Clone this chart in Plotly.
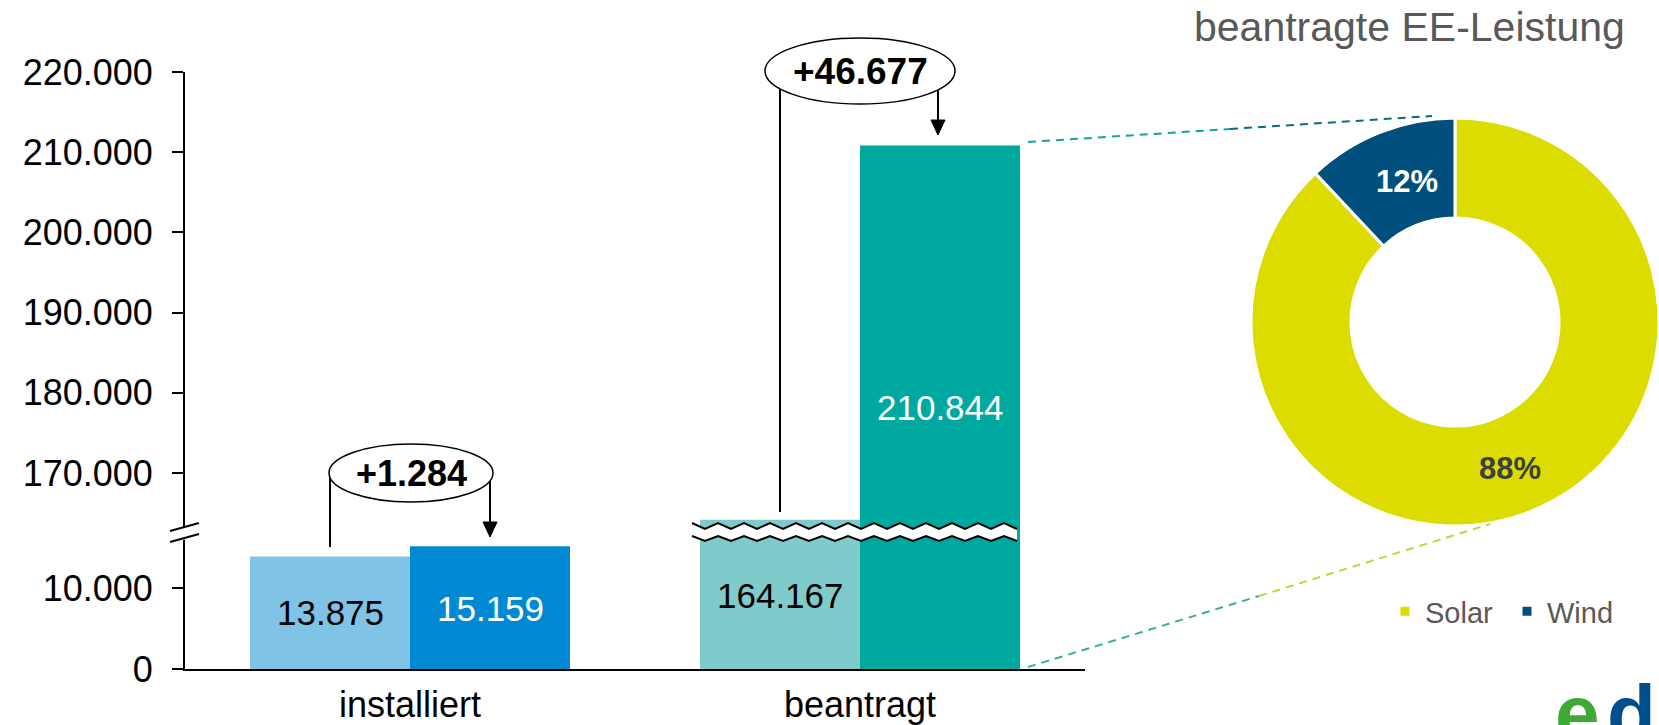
import plotly.graph_objects as go

W, H = 1659, 725

# ---------------- data ----------------
categories = ["installiert", "beantragt"]
values_before = [13875, 164167]
values_after = [15159, 210844]
share_labels = ["Solar", "Wind"]
share_values = [88, 12]
lower_ticks = [0, 10000]
upper_ticks = [170000, 180000, 190000, 200000, 210000, 220000]
title_text = "beantragte EE-Leistung"

# ---------------- helpers ----------------
def px(x):
    return x / W


def py(y):
    return 1 - y / H


def fmt(v):
    return f"{v:,}".replace(",", ".")


FONT = "Liberation Sans, Arial, sans-serif"
c_before = ["#7FC4E7", "#7FCBCB"]
c_after = ["#0089D2", "#00A9A0"]
pie_colors = ["#DCDC00", "#004F7C"]
BW = 160 / 450  # bar width in category units

fig = go.Figure()

for xa, ya in [("x", "y"), ("x2", "y2")]:
    fig.add_trace(go.Bar(x=categories, y=values_before, marker_color=c_before,
                         marker_line_width=0, width=BW, offset=-BW,
                         xaxis=xa, yaxis=ya, showlegend=False, hoverinfo="skip"))
    fig.add_trace(go.Bar(x=categories, y=values_after, marker_color=c_after,
                         marker_line_width=0, width=BW, offset=0,
                         xaxis=xa, yaxis=ya, showlegend=False, hoverinfo="skip"))

fig.add_trace(go.Pie(
    labels=share_labels, values=share_values, hole=0.51, sort=False,
    direction="clockwise", rotation=0,
    marker=dict(colors=pie_colors, line=dict(color="white", width=3)),
    textinfo="none",
    domain=dict(x=[px(1251), px(1659)], y=[py(526), py(118)]),
    showlegend=True, hoverinfo="skip"))

# ---------------- shapes ----------------
shapes = []


def line(x0, y0, x1, y1, color="black", width=2, dash=None):
    d = dict(type="line", xref="paper", yref="paper", x0=px(x0), y0=py(y0),
             x1=px(x1), y1=py(y1), line=dict(color=color, width=width))
    if dash:
        d["line"]["dash"] = dash
    shapes.append(d)


def path(points, fill=None, color="black", width=2, close=False):
    s = "M " + " L ".join(f"{px(x):.5f},{py(y):.5f}" for x, y in points)
    if close:
        s += " Z"
    shapes.append(dict(type="path", xref="paper", yref="paper", path=s,
                       fillcolor=fill if fill else "rgba(0,0,0,0)",
                       line=dict(color=color, width=width)))


def ellipse(cx, cy, rx, ry):
    shapes.append(dict(type="circle", xref="paper", yref="paper",
                       x0=px(cx - rx), x1=px(cx + rx), y0=py(cy + ry), y1=py(cy - ry),
                       fillcolor="white", line=dict(color="black", width=1.5)))


def arrowhead(x, ytip):
    path([(x - 7, ytip - 15), (x + 7, ytip - 15), (x, ytip)], fill="black",
         color="black", width=1, close=True)


# zigzag break band across beantragt bars
zx0, zx1, period = 692, 1026, 26
n = int((zx1 - zx0) / (period / 2))
upper_pts = [(zx0 + i * period / 2, 523 if i % 2 == 0 else 529) for i in range(n + 1)]
lower_pts = [(zx0 + i * period / 2, 536 if i % 2 == 0 else 541) for i in range(n + 1)]
path(upper_pts + lower_pts[::-1], fill="white", color="rgba(0,0,0,0)", width=0, close=True)
path(upper_pts, color="black", width=2)
path(lower_pts, color="black", width=2)

# y-axis break
path([(176, 530), (194, 525), (194, 537), (176, 542)], fill="white",
     color="rgba(0,0,0,0)", width=0, close=True)
line(170, 531, 199, 523, width=2)
line(170, 542, 199, 534, width=2)

# difference callouts
line(330, 473, 330, 547)
line(490, 473, 490, 524)
arrowhead(490, 537)
ellipse(411, 473, 82, 29)

line(780, 71, 780, 512)
line(938, 71, 938, 122)
arrowhead(938, 135)
ellipse(860, 71, 95, 33)

# dashed connectors to donut
line(1028, 142, 1230, 129, color="#13A4A0", width=2, dash="8px,6px")
line(1230, 129, 1432, 116, color="#0B6A88", width=2, dash="8px,6px")
line(1028, 667, 1259, 596, color="#3DAE95", width=2, dash="8px,6px")
line(1259, 596, 1490, 524, color="#BCD83A", width=2, dash="8px,6px")

# ---------------- annotations ----------------
ann = []


def text(x, y, s, size, color="black", xref="paper", xanchor="center",
         yanchor="middle", bold=False):
    ann.append(dict(x=x, y=y, xref=xref, yref="paper", text=f"<b>{s}</b>" if bold else s,
                    showarrow=False, xanchor=xanchor, yanchor=yanchor,
                    font=dict(size=size, color=color, family=FONT)))


off = BW / 2
text(0 - off, py(612), fmt(values_before[0]), 35, "black", xref="x")
text(0 + off, py(608), fmt(values_after[0]), 35, "white", xref="x")
text(1 - off, py(595), fmt(values_before[1]), 35, "black", xref="x")
text(1 + off, py(407), fmt(values_after[1]), 35, "white", xref="x")

text(px(411), py(473), "+" + fmt(values_after[0] - values_before[0]), 36, bold=True)
text(px(860), py(71), "+" + fmt(values_after[1] - values_before[1]), 37, bold=True)

# donut percentages
text(px(1510), py(468), f"{share_values[0]}%", 31, "#404040", bold=True)
text(px(1407), py(181), f"{share_values[1]}%", 31, "#FFFFFF", bold=True)

text(px(1627), py(27), title_text, 41, "#595959", xanchor="right")

# logo fragment
text(px(1553), py(713), "e", 80, "#3DAA35", xanchor="left", bold=True)
text(px(1605), py(713), "d", 80, "#004F8C", xanchor="left", bold=True)

axis_common = dict(showline=True, linecolor="black", linewidth=2, showgrid=False,
                   zeroline=False, fixedrange=True)
tickfont = dict(size=36, color="black", family=FONT)

fig.update_layout(
    width=W, height=H, autosize=False,
    margin=dict(l=0, r=0, t=0, b=0, pad=0),
    paper_bgcolor="white", plot_bgcolor="rgba(0,0,0,0)",
    separators=",.",
    barmode="overlay",
    font=dict(family=FONT, color="black"),
    xaxis=dict(domain=[px(185), px(1085)], type="category", range=[-0.5, 1.5],
               anchor="y", ticks="outside", ticklen=3, tickcolor="rgba(0,0,0,0)",
               tickfont=tickfont, automargin=False, **axis_common),
    xaxis2=dict(domain=[px(185), px(1085)], type="category", range=[-0.5, 1.5],
                anchor="y2", matches="x", visible=False),
    yaxis=dict(domain=[py(669), py(533)], range=[0, 16790], tickvals=lower_ticks,
               tickformat=",d", ticks="outside", ticklen=11, tickwidth=2,
               tickcolor="black", tickfont=tickfont,
               ticklabelstandoff=12, anchor="x", automargin=False, **axis_common),
    yaxis2=dict(domain=[py(533), py(72)], range=[162519, 220000], tickvals=upper_ticks,
                tickformat=",d", ticks="outside", ticklen=11, tickwidth=2,
                tickcolor="black", tickfont=tickfont,
                ticklabelstandoff=12, anchor="x2", automargin=False, **axis_common),
    legend=dict(orientation="h", x=px(1385), y=py(586), xanchor="left", yanchor="top",
                font=dict(size=29, color="#595959", family=FONT),
                entrywidth=77, entrywidthmode="pixels",
                bgcolor="rgba(0,0,0,0)", traceorder="normal"),
    shapes=shapes,
    annotations=ann,
)

fig.write_html("out.html")
